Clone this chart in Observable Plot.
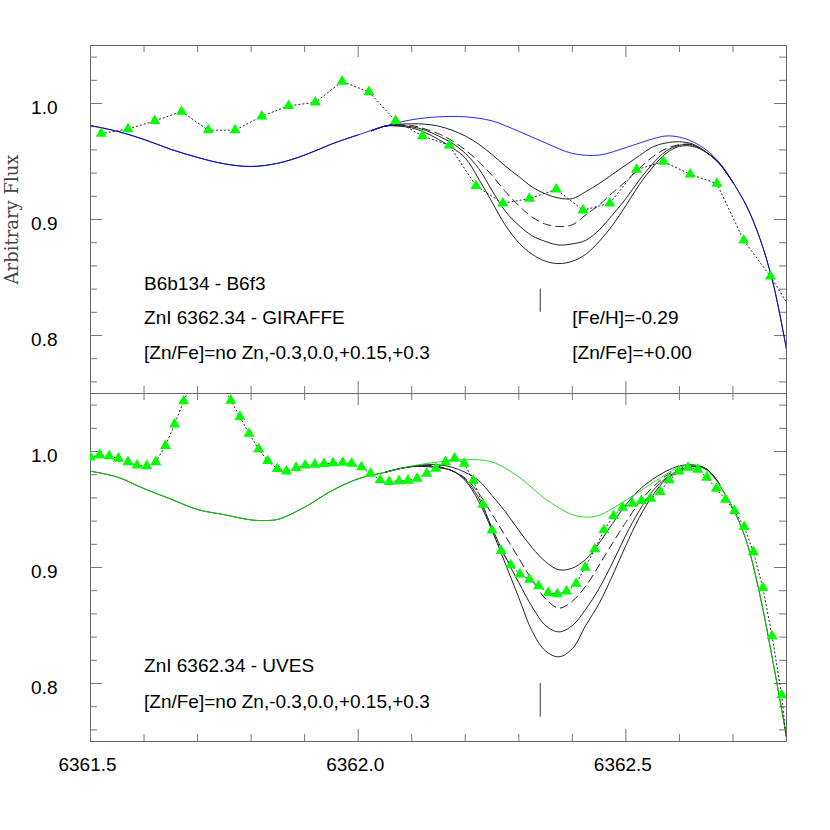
<!DOCTYPE html>
<html>
<head>
<meta charset="utf-8">
<script src="https://cdn.jsdelivr.net/npm/d3@7"></script>
<script src="https://cdn.jsdelivr.net/npm/@observablehq/plot@0.6"></script>
<style>
  html, body { margin: 0; padding: 0; background: #fff; }
  #chart { position: relative; width: 830px; height: 830px; overflow: hidden; background: #fff; }
  #chart > svg { position: absolute; left: 0; }
</style>
</head>
<body>
<div id="chart"></div>
<script>
// ---------- axes ----------
const xDomain = [6361.5, 6362.8];
const yDomain = [0.75, 1.05];
const xMajorTicks = [6361.5, 6362.0, 6362.5];
const xMinorTicks = [6361.6, 6361.7, 6361.8, 6361.9, 6362.1, 6362.2, 6362.3, 6362.4, 6362.6, 6362.7];
const yMajorTicks = [0.8, 0.9, 1.0];
const yMinorTicks = [0.76, 0.78, 0.82, 0.84, 0.86, 0.88, 0.92, 0.94, 0.96, 0.98, 1.02, 1.04];
const yTitle = "Arbitrary Flux";

// ZnI line position marker
const zincLine = 6362.34;
const topMarkerY = [0.82, 0.84];
const botMarkerY = [0.771, 0.80];

// ---------- top panel: GIRAFFE ----------
const topObsX = [6361.52, 6361.57, 6361.62, 6361.67, 6361.72, 6361.77, 6361.82, 6361.87, 6361.92, 6361.97,
  6362.02, 6362.07, 6362.12, 6362.17, 6362.22, 6362.27, 6362.32, 6362.37, 6362.42, 6362.47,
  6362.52, 6362.57, 6362.62, 6362.67, 6362.72, 6362.77, 6362.82];
const topObsY = [0.974, 0.978, 0.985, 0.993, 0.977, 0.977, 0.989, 0.998, 1.001, 1.019,
  1.010, 0.985, 0.972, 0.964, 0.929, 0.914, 0.918, 0.926, 0.908, 0.914,
  0.943, 0.950, 0.939, 0.931, 0.882, 0.851, 0.814];

const topNoZnX = [6361.50, 6361.55, 6361.60, 6361.65, 6361.70, 6361.75, 6361.80, 6361.85, 6361.90, 6361.95,
  6362.00, 6362.05, 6362.10, 6362.15, 6362.20, 6362.25, 6362.30, 6362.35, 6362.40, 6362.45,
  6362.50, 6362.55, 6362.575, 6362.60, 6362.625, 6362.65, 6362.675, 6362.70, 6362.725, 6362.75,
  6362.775, 6362.80];
const topNoZnY = [0.981, 0.976, 0.969, 0.9605, 0.9535, 0.948, 0.9457, 0.9485, 0.9555, 0.965,
  0.973, 0.9805, 0.986, 0.9885, 0.9885, 0.985, 0.976, 0.966, 0.957, 0.9555,
  0.962, 0.9695, 0.972, 0.971, 0.967, 0.960, 0.949, 0.932, 0.912, 0.884,
  0.845, 0.788];

const topLineX = [6362.025, 6362.05, 6362.075, 6362.10, 6362.125, 6362.15, 6362.175, 6362.20, 6362.225, 6362.25,
  6362.275, 6362.30, 6362.325, 6362.35, 6362.375, 6362.40, 6362.425, 6362.45, 6362.475, 6362.50,
  6362.525, 6362.55, 6362.575, 6362.60, 6362.625, 6362.65, 6362.675, 6362.70];
const topZnM030 = [0.9765, 0.9805, 0.982, 0.9825, 0.9822, 0.9805, 0.977, 0.972, 0.965, 0.956,
  0.946, 0.937, 0.928, 0.922, 0.9185, 0.918, 0.924, 0.931, 0.939, 0.947,
  0.955, 0.9625, 0.966, 0.967, 0.965, 0.958, 0.948, 0.932];
const topZnP000 = [0.9765, 0.9805, 0.9815, 0.981, 0.978, 0.974, 0.968, 0.960, 0.950, 0.938,
  0.924, 0.912, 0.902, 0.896, 0.894, 0.8955, 0.904, 0.9125, 0.923, 0.933,
  0.944, 0.954, 0.961, 0.9645, 0.9645, 0.958, 0.948, 0.932];
const topZnP015 = [0.9765, 0.9805, 0.981, 0.980, 0.977, 0.972, 0.966, 0.957, 0.944, 0.925,
  0.907, 0.895, 0.886, 0.881, 0.878, 0.879, 0.882, 0.891, 0.904, 0.918,
  0.934, 0.948, 0.959, 0.964, 0.964, 0.958, 0.948, 0.932];
const topZnP030 = [0.9765, 0.9805, 0.9805, 0.979, 0.975, 0.969, 0.962, 0.953, 0.935, 0.915,
  0.895, 0.880, 0.870, 0.864, 0.862, 0.864, 0.870, 0.881, 0.895, 0.912,
  0.930, 0.945, 0.957, 0.963, 0.963, 0.958, 0.948, 0.932];

const topTextLeft = ["B6b134 - B6f3", "ZnI 6362.34 - GIRAFFE", "[Zn/Fe]=no Zn,-0.3,0.0,+0.15,+0.3"];
const topTextLeftY = [0.8395, 0.810, 0.780];
const topTextRight = ["[Fe/H]=-0.29", "[Zn/Fe]=+0.00"];
const topTextRightY = [0.810, 0.780];

// ---------- bottom panel: UVES ----------
const botObsX = [6361.500, 6361.517, 6361.535, 6361.552, 6361.570, 6361.587, 6361.605, 6361.622, 6361.640, 6361.657,
  6361.674, 6361.692, 6361.709, 6361.727, 6361.744, 6361.762, 6361.779, 6361.796, 6361.814, 6361.831,
  6361.849, 6361.866, 6361.884, 6361.901, 6361.919, 6361.936, 6361.953, 6361.971, 6361.988, 6362.006,
  6362.023, 6362.041, 6362.058, 6362.076, 6362.093, 6362.110, 6362.128, 6362.145, 6362.163, 6362.180,
  6362.198, 6362.215, 6362.233, 6362.250, 6362.267, 6362.285, 6362.302, 6362.320, 6362.337, 6362.355,
  6362.372, 6362.389, 6362.407, 6362.424, 6362.442, 6362.459, 6362.477, 6362.494, 6362.512, 6362.529,
  6362.546, 6362.564, 6362.581, 6362.599, 6362.616, 6362.634, 6362.651, 6362.669, 6362.686, 6362.703,
  6362.721, 6362.738, 6362.756, 6362.773, 6362.791, 6362.808];
const botObsY = [0.995, 0.997, 0.996, 0.994, 0.991, 0.988, 0.9875, 0.991, 1.005, 1.0235,
  1.0435, 1.062, 1.072, 1.072, 1.062, 1.044, 1.030, 1.0155, 1.002, 0.992,
  0.985, 0.983, 0.986, 0.988, 0.9888, 0.9893, 0.990, 0.9905, 0.9897, 0.9865,
  0.981, 0.9753, 0.9738, 0.9745, 0.975, 0.9767, 0.981, 0.9853, 0.991, 0.994,
  0.9897, 0.9747, 0.9543, 0.932, 0.9143, 0.902, 0.8942, 0.8897, 0.8841, 0.8781,
  0.877, 0.8795, 0.8862, 0.900, 0.9158, 0.9322, 0.9445, 0.9517, 0.9552, 0.9574,
  0.9595, 0.9652, 0.9753, 0.983, 0.9862, 0.9845, 0.9776, 0.968, 0.9586, 0.9488,
  0.935, 0.9134, 0.8824, 0.8408, 0.790, 0.715];

const botNoZnX = [6361.50, 6361.55, 6361.60, 6361.65, 6361.70, 6361.75, 6361.80, 6361.825, 6361.85, 6361.90,
  6361.95, 6362.00, 6362.05, 6362.10, 6362.15, 6362.20, 6362.25, 6362.30, 6362.35, 6362.40,
  6362.425, 6362.45, 6362.50, 6362.55, 6362.60, 6362.625, 6362.65, 6362.675, 6362.70, 6362.725,
  6362.75, 6362.775, 6362.80];
const botNoZnY = [0.983, 0.978, 0.968, 0.959, 0.950, 0.9455, 0.941, 0.9405, 0.9415, 0.952,
  0.966, 0.9765, 0.982, 0.9875, 0.991, 0.993, 0.991, 0.978, 0.959, 0.9455,
  0.9435, 0.945, 0.958, 0.973, 0.9865, 0.988, 0.984, 0.971, 0.951, 0.923,
  0.877, 0.818, 0.754];

const botLineX = [6362.05, 6362.075, 6362.10, 6362.125, 6362.15, 6362.175, 6362.20, 6362.225, 6362.25, 6362.275,
  6362.30, 6362.325, 6362.35, 6362.375, 6362.40, 6362.425, 6362.45, 6362.475, 6362.50, 6362.525,
  6362.55, 6362.575, 6362.60, 6362.625, 6362.65, 6362.675];
const botZnM030 = [0.982, 0.985, 0.987, 0.9885, 0.9885, 0.9865, 0.982, 0.975, 0.962, 0.948,
  0.932, 0.917, 0.905, 0.898, 0.8995, 0.907, 0.921, 0.938, 0.954, 0.967,
  0.976, 0.983, 0.9875, 0.9885, 0.985, 0.972];
const botZnP000 = [0.982, 0.985, 0.987, 0.988, 0.987, 0.9835, 0.977, 0.964, 0.946, 0.927,
  0.908, 0.889, 0.873, 0.865, 0.871, 0.884, 0.902, 0.921, 0.939, 0.956,
  0.969, 0.979, 0.985, 0.988, 0.985, 0.972];
const botZnP015 = [0.982, 0.985, 0.987, 0.9875, 0.9865, 0.9835, 0.976, 0.960, 0.934, 0.909,
  0.887, 0.866, 0.850, 0.8445, 0.850, 0.864, 0.882, 0.904, 0.928, 0.949,
  0.966, 0.977, 0.984, 0.987, 0.985, 0.972];
const botZnP030 = [0.982, 0.985, 0.987, 0.987, 0.986, 0.9835, 0.975, 0.957, 0.932, 0.903,
  0.874, 0.845, 0.828, 0.823, 0.830, 0.850, 0.869, 0.893, 0.919, 0.943,
  0.962, 0.976, 0.9825, 0.987, 0.985, 0.972];

const botText = ["ZnI 6362.34 - UVES", "[Zn/Fe]=no Zn,-0.3,0.0,+0.15,+0.3"];
const botTextY = [0.810, 0.779];

const textLeftX = 6361.6;
const textRightX = 6362.40;

// ---------- drawing ----------
const W = 830, ML = 90, MR = 44;
const FW = W - ML - MR;  // 696
const FH = 348;
const FONT = "'Liberation Sans', Arial, Helvetica, sans-serif";
const FS = 19;
const tickColor = "#777";

function pts(xs, ys) { return xs.map((x, i) => ({x, y: ys[i]})); }

function panel(o) {
  const obs = pts(o.obsX, o.obsY);
  const noZn = pts(o.noX, o.noY);
  const gap = [o.lineX[0], o.lineX[o.lineX.length - 1]];
  const models = [
    {v: o.m030, dash: null},
    {v: o.p000, dash: "8,5"},
    {v: o.p015, dash: null},
    {v: o.p030, dash: null}
  ];
  const marks = [
    Plot.frame({stroke: "#666", strokeWidth: 1}),
    // inward ticks on all four edges
    Plot.tickX(xMinorTicks, {x: d => d, insetTop: FH - 7, stroke: tickColor}),
    Plot.tickX(xMinorTicks, {x: d => d, insetBottom: FH - 7, stroke: tickColor}),
    Plot.tickX(xMajorTicks, {x: d => d, insetTop: FH - 12, stroke: tickColor}),
    Plot.tickX(xMajorTicks, {x: d => d, insetBottom: FH - 12, stroke: tickColor}),
    Plot.tickY(yMinorTicks, {y: d => d, insetRight: FW - 7, stroke: tickColor}),
    Plot.tickY(yMinorTicks, {y: d => d, insetLeft: FW - 7, stroke: tickColor}),
    Plot.tickY(yMajorTicks, {y: d => d, insetRight: FW - 12, stroke: tickColor}),
    Plot.tickY(yMajorTicks, {y: d => d, insetLeft: FW - 12, stroke: tickColor}),
    Plot.axisY(yMajorTicks, {anchor: "left", tickSize: 0, tickPadding: 33, dy: 4.5,
      tickFormat: d3.format(".1f"), label: null, fill: "#000"}),
    // model spectra with Zn
    ...models.map(m => Plot.line(pts(o.lineX, m.v), {x: "x", y: "y", curve: "catmull-rom",
      stroke: "#222", strokeWidth: 1, strokeDasharray: m.dash, clip: true})),
    // shared continuum under the no-Zn curve
    Plot.line(noZn, {x: "x", y: d => (d.x > gap[0] && d.x < gap[1]) ? NaN : d.y,
      curve: "catmull-rom", stroke: "#222", strokeWidth: 1, clip: true}),
    Plot.line(noZn, {x: "x", y: "y", curve: "catmull-rom", stroke: o.noColor,
      strokeWidth: 1, strokeOpacity: o.noOpacity, clip: true}),
    // observed
    Plot.line(obs, {x: "x", y: "y", stroke: "#222", strokeWidth: 1, strokeDasharray: "1.2,2.8", clip: true}),
    Plot.dot(obs, {x: "x", y: "y", symbol: "triangle", r: 4.1, fill: "#00ff00", stroke: "none", clip: true}),
    // line position marker
    Plot.ruleX([zincLine], {x: d => d, y1: o.markerY[0], y2: o.markerY[1], stroke: "#333", strokeWidth: 1}),
    // annotations
    Plot.text(o.textL, {x: () => textLeftX, y: (d, i) => o.textLY[i], text: d => d,
      textAnchor: "start", lineAnchor: "bottom", fill: "#000", fontSize: FS}),
  ];
  if (o.textR) marks.push(Plot.text(o.textR, {x: () => textRightX, y: (d, i) => o.textRY[i], text: d => d,
      textAnchor: "start", lineAnchor: "bottom", fill: "#000", fontSize: FS}));
  if (o.title) marks.push(Plot.text([o.title], {frameAnchor: "left", dx: -78, rotate: -90, text: d => d,
      fontFamily: "'DejaVu Serif', serif", fontSize: 18, fill: "#444", textAnchor: "middle", lineAnchor: "middle"}));
  if (o.showX) marks.push(Plot.axisX(xMajorTicks, {anchor: "bottom", tickSize: 0, tickPadding: 16, dx: -3,
      tickFormat: d3.format(".1f"), label: null, fill: "#000"}));
  return Plot.plot({
    width: W, height: o.height,
    marginLeft: ML, marginRight: MR, marginTop: o.mt, marginBottom: o.mb,
    x: {domain: xDomain, axis: o.showX ? undefined : null},
    y: {domain: yDomain},
    style: {fontFamily: FONT, fontSize: FS + "px", background: "transparent", overflow: "visible", color: "#000"},
    marks
  });
}

const topPanel = panel({
  obsX: topObsX, obsY: topObsY, noX: topNoZnX, noY: topNoZnY, noColor: "#0000ff", noOpacity: 0.85,
  lineX: topLineX, m030: topZnM030, p000: topZnP000, p015: topZnP015, p030: topZnP030,
  markerY: topMarkerY, textL: topTextLeft, textLY: topTextLeftY, textR: topTextRight, textRY: topTextRightY,
  title: yTitle, showX: false, height: 400, mt: 45, mb: 7
});
const botPanel = panel({
  obsX: botObsX, obsY: botObsY, noX: botNoZnX, noY: botNoZnY, noColor: "#00e000", noOpacity: 0.88,
  lineX: botLineX, m030: botZnM030, p000: botZnP000, p015: botZnP015, p030: botZnP030,
  markerY: botMarkerY, textL: botText, textLY: botTextY,
  showX: true, height: 444, mt: 7, mb: 89
});
topPanel.style.top = "0px";
botPanel.style.top = "386px";
const chart = document.getElementById("chart");
chart.appendChild(topPanel);
chart.appendChild(botPanel);
</script>
</body>
</html>
